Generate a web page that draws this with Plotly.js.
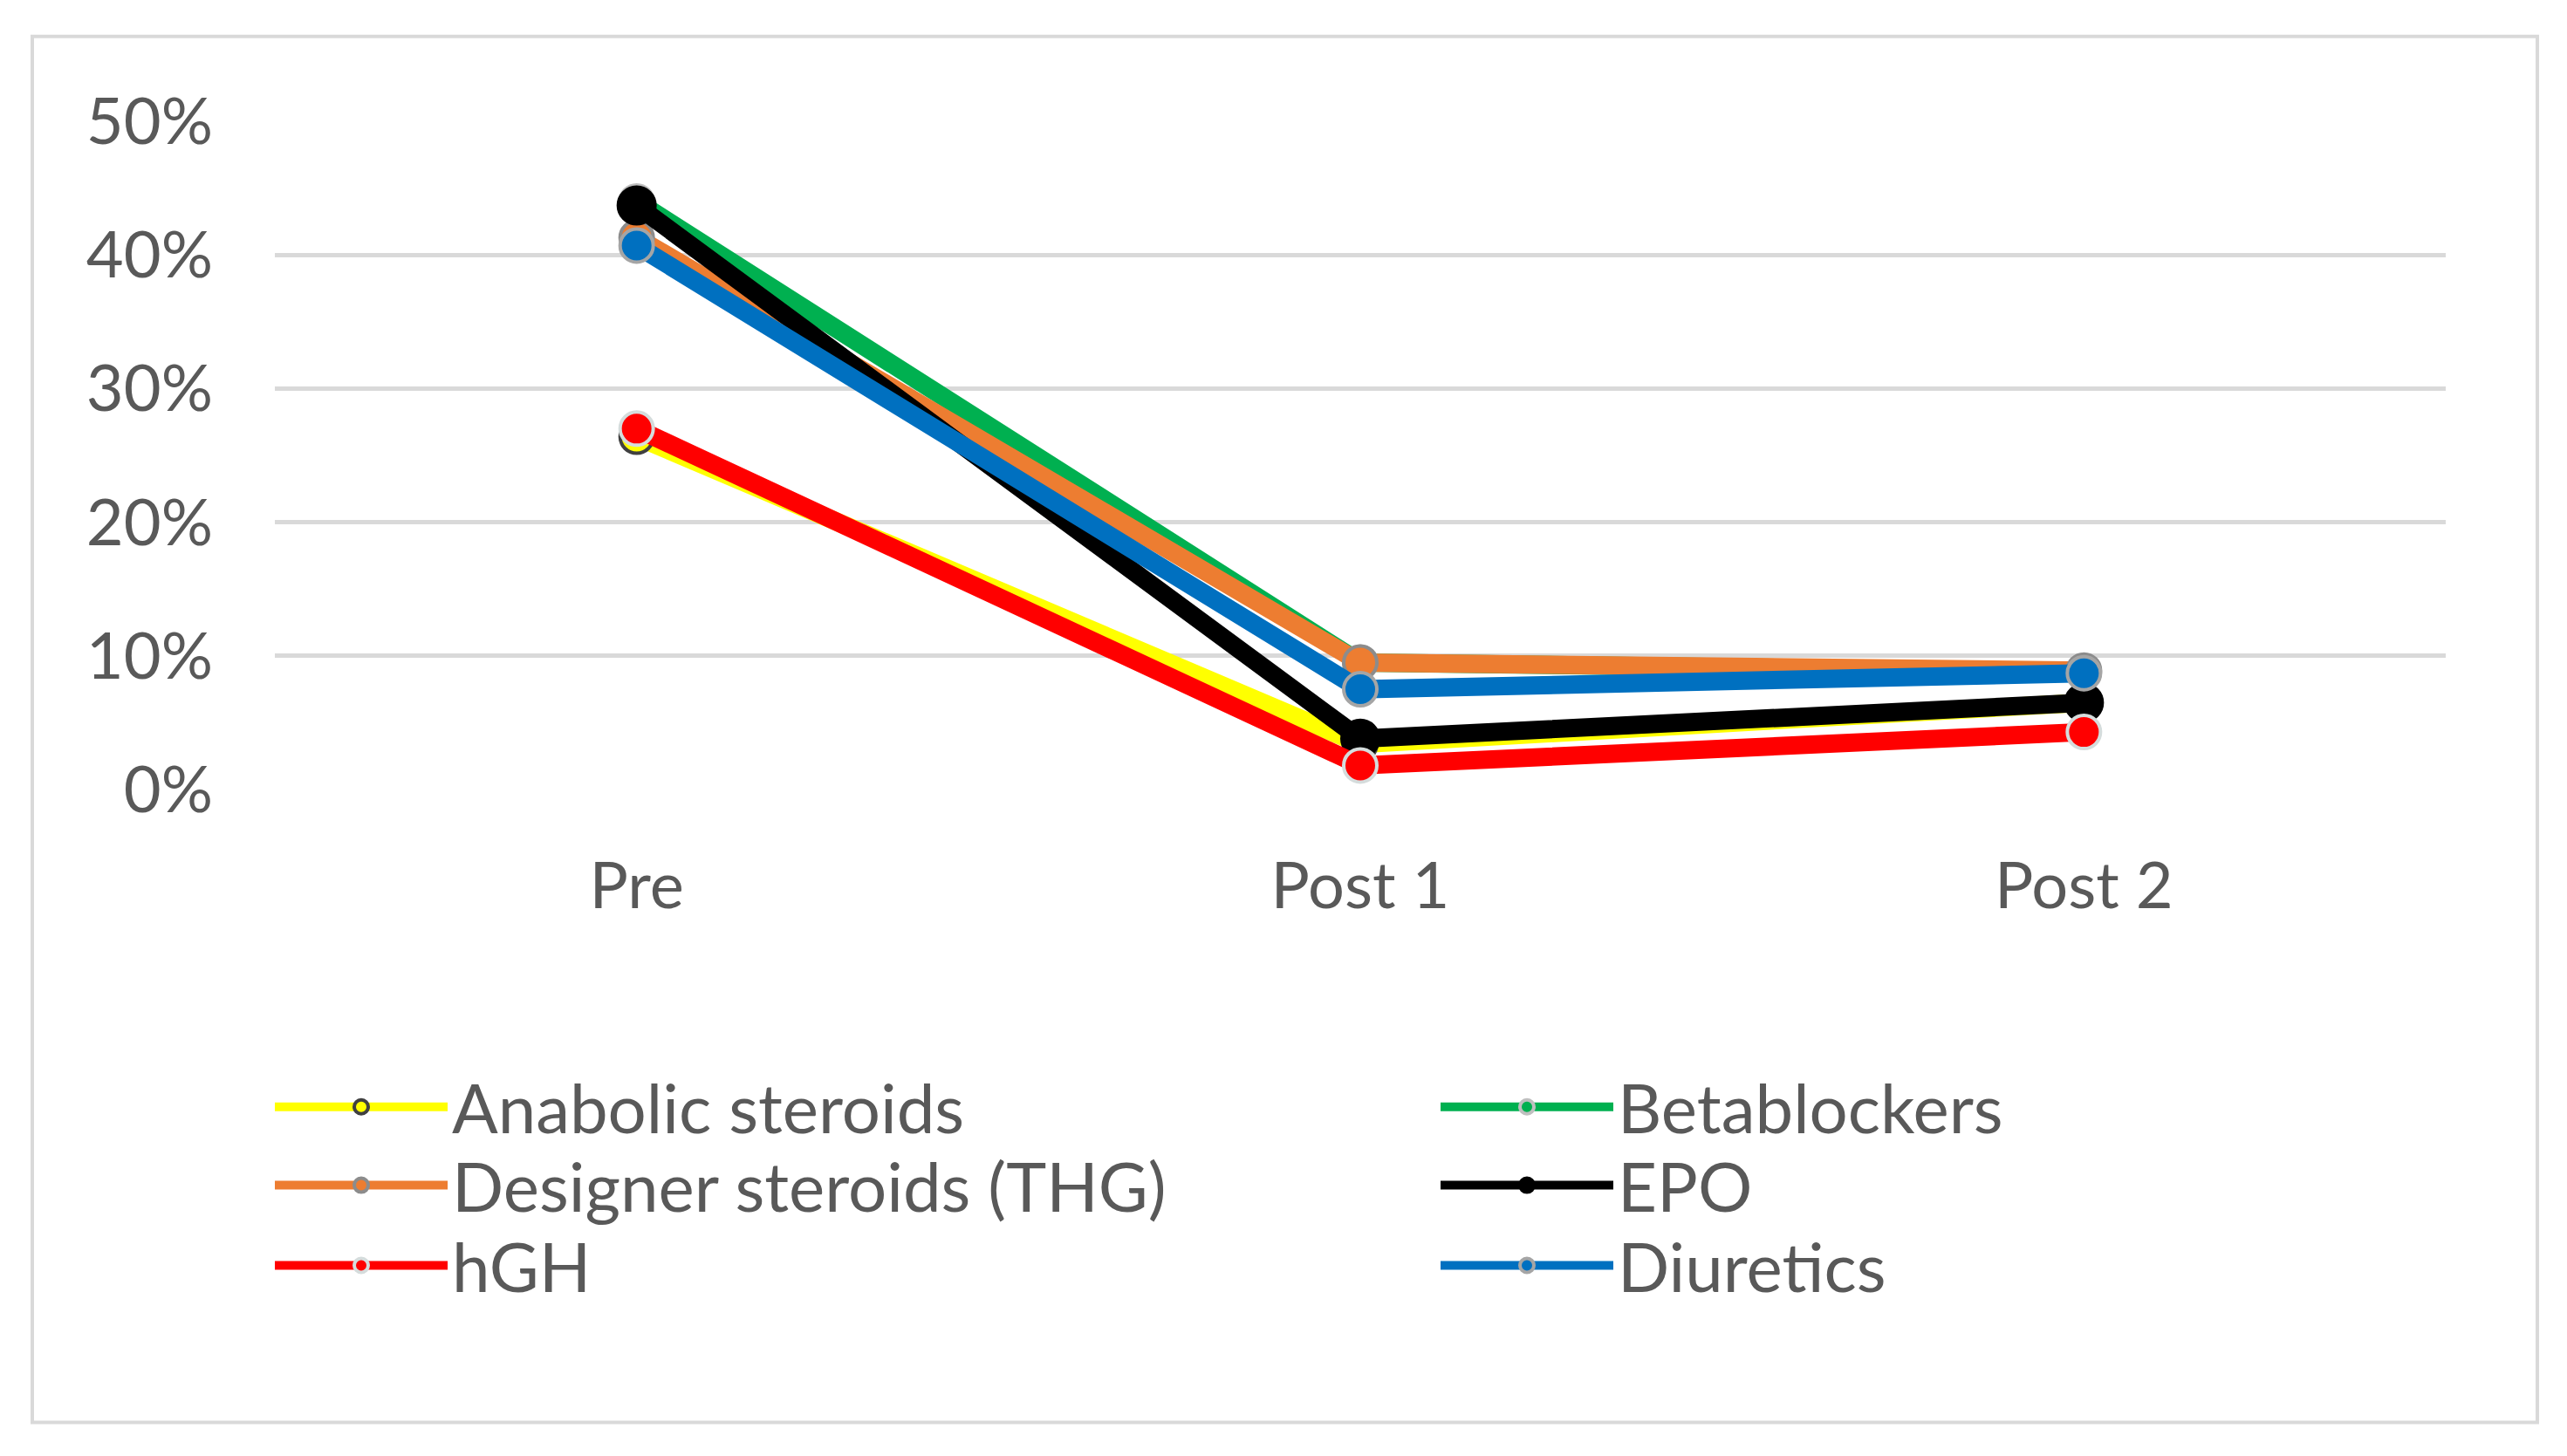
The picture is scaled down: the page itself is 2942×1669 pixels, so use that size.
<!DOCTYPE html>
<html><head><meta charset="utf-8">
<script src="https://cdn.plot.ly/plotly-3.0.1.min.js"></script>
<style>html,body{margin:0;padding:0;background:#fff;} #chart{width:2942px;height:1669px;}</style>
</head><body><div id="chart"></div>
<script>
const categories = ['Pre', 'Post 1', 'Post 2'];
const seriesNames = ['Anabolic steroids', 'Betablockers', 'Designer steroids (THG)', 'EPO', 'hGH', 'Diuretics'];
const anabolic = [0.264, 0.034, 0.065];
const betablockers = [0.440, 0.095, 0.088];
const designer = [0.413, 0.095, 0.089];
const epo = [0.437, 0.038, 0.065];
const hgh = [0.270, 0.018, 0.043];
const diuretics = [0.407, 0.075, 0.087];
const yTickValues = [0, 0.1, 0.2, 0.3, 0.4, 0.5];
const yTickLabels = ['0%', '10%', '20%', '30%', '40%', '50%'];

const seriesValues = [anabolic, betablockers, designer, epo, hgh, diuretics];
const lineColors = ['#ffff00', '#00b050', '#ed7d31', '#000000', '#ff0000', '#0070c0'];
const markerBorders = ['#404040', '#bfbfbf', '#8c8c8c', '#000000', '#d5dcdc', '#a5a5a5'];
const markerSizes = [38, 38, 38, 42, 38, 38];
const legendIds = ['legend', 'legend2', 'legend3', 'legend4', 'legend5', 'legend6'];

const W = 2942, H = 1669;
const plotL = 315, plotR = 2803, plotT = 138.5, plotB = 905.5;
const pw = plotR - plotL, ph = plotB - plotT;
const px = v => (v - plotL) / pw;
const py = v => (plotB - v) / ph;

const traces = seriesNames.map((name, i) => ({
  type: 'scatter', mode: 'lines+markers', name: name,
  x: categories, y: seriesValues[i],
  line: {color: lineColors[i], width: 21},
  marker: {color: lineColors[i], size: markerSizes[i], line: {color: markerBorders[i], width: 4}},
  legend: legendIds[i], cliponaxis: false
}));

const legendFont = {family: 'Lato, sans-serif', size: 78, color: '#595959'};
const colX = [px(310), px(1646)];
const rowY = [py(1270), py(1360), py(1452)];
const layout = {
  width: W, height: H,
  margin: {l: plotL, r: W - plotR, t: plotT, b: H - plotB, pad: 0},
  paper_bgcolor: '#ffffff', plot_bgcolor: '#ffffff',
  font: {family: 'Lato, sans-serif', color: '#595959'},
  xaxis: {
    type: 'category', range: [-0.5, 2.5], showgrid: false, zeroline: false, showline: false,
    ticks: '', tickfont: {size: 74, color: '#595959'}, ticklabelstandoff: 61, fixedrange: true
  },
  yaxis: {
    range: [0, 0.5], tickvals: yTickValues, ticktext: yTickLabels,
    showgrid: true, gridcolor: '#d9d9d9', gridwidth: 5, zeroline: false, showline: false,
    ticks: '', tickfont: {size: 74, color: '#595959'}, ticklabelstandoff: 70, fixedrange: true
  },
  shapes: [{
    type: 'rect', xref: 'paper', yref: 'paper', layer: 'below',
    x0: px(37), x1: px(2908), y0: py(1632), y1: py(41),
    line: {color: '#d9d9d9', width: 4}, fillcolor: 'rgba(0,0,0,0)'
  }],
  showlegend: true
};
legendIds.forEach((id, i) => {
  layout[id] = {
    x: colX[i % 2], y: rowY[Math.floor(i / 2)], xanchor: 'left', yanchor: 'middle',
    bgcolor: 'rgba(0,0,0,0)', borderwidth: 0, font: legendFont, itemwidth: 198
  };
});

Plotly.newPlot('chart', traces, layout, {displayModeBar: false, staticPlot: true});
</script>
</body></html>
